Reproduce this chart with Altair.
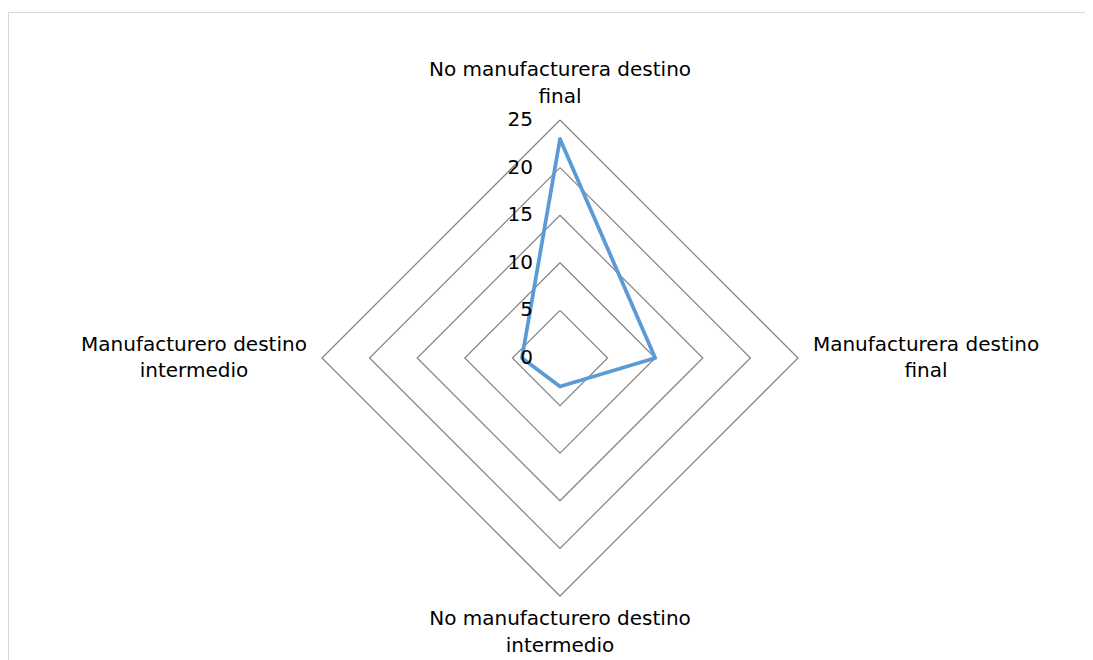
import altair as alt
import pandas as pd

# ---- data ----
categories = [
    "No manufacturera destino final",
    "Manufacturera destino final",
    "No manufacturero destino intermedio",
    "Manufacturero destino intermedio",
]
category_labels = [
    "No manufacturera destino\nfinal",
    "Manufacturera destino\nfinal",
    "No manufacturero destino\nintermedio",
    "Manufacturero destino\nintermedio",
]
values = [23, 10, 3, 4]
ticks = [0, 5, 10, 15, 20, 25]

# ---- layout (pixels) ----
W, H = 1077, 652
CX, CY = 552, 350
RMAX = max(ticks)
PPU = 238 / RMAX
xdom = [-CX / PPU, (W - CX) / PPU]
ydom = [-(H - CY) / PPU, CY / PPU]

FONT = "DejaVu Sans"
LH = 26.5
n = len(categories)

# tables built from the lists
series_df = pd.DataFrame({
    "k": [i % n for i in range(n + 1)],
    "order": list(range(n + 1)),
    "r": [values[i % n] for i in range(n + 1)],
    "cat": [categories[i % n] for i in range(n + 1)],
})
grid_df = pd.DataFrame([
    {"tick": t, "k": j % n, "order": j}
    for t in ticks[1:] for j in range(n + 1)
])
tick_df = pd.DataFrame({"tick": ticks, "label": [str(t) for t in ticks]})
cat_df = pd.DataFrame({"k": list(range(n)), "label": category_labels})

xs = alt.Scale(domain=xdom, nice=False, zero=False)
ys = alt.Scale(domain=ydom, nice=False, zero=False)

def xy(chart, rexpr):
    return chart.transform_calculate(
        px=f"({rexpr}) * sin(datum.k * PI / 2)",
        py=f"({rexpr}) * cos(datum.k * PI / 2)",
    )

grid = xy(alt.Chart(grid_df), "datum.tick").mark_line(
    color="#868686", strokeWidth=1.25
).encode(
    x=alt.X("px:Q", scale=xs, axis=None),
    y=alt.Y("py:Q", scale=ys, axis=None),
    detail="tick:N",
    order="order:Q",
)

series = xy(alt.Chart(series_df), "datum.r").mark_line(
    color="#5B9BD5", strokeWidth=3.75, strokeJoin="round", strokeCap="round"
).encode(
    x=alt.X("px:Q", scale=xs, axis=None),
    y=alt.Y("py:Q", scale=ys, axis=None),
    order="order:Q",
)

tick_labels = alt.Chart(tick_df).transform_calculate(
    px="0"
).mark_text(
    align="right", baseline="middle", dx=-27, font=FONT, fontSize=20, color="#000000"
).encode(
    x=alt.X("px:Q", scale=xs, axis=None),
    y=alt.Y("tick:Q", scale=ys, axis=None),
    text="label:N",
)

cat_text = xy(
    alt.Chart(cat_df),
    f"{RMAX} + 3.85 + 9.6 * abs(sin(datum.k * PI / 2))",
).mark_text(
    align="center", baseline="middle", font=FONT, fontSize=20, color="#000000",
    lineBreak="\n", lineHeight=LH, dy=-LH / 2,
).encode(
    x=alt.X("px:Q", scale=xs, axis=None),
    y=alt.Y("py:Q", scale=ys, axis=None),
    text="label:N",
)

frame_top = alt.Chart(tick_df).mark_rule(color="#d9d9d9", strokeWidth=1).encode(
    x=alt.value(0.5), x2=alt.value(W), y=alt.value(4.5)
)
frame_left = alt.Chart(tick_df).mark_rule(color="#d9d9d9", strokeWidth=1).encode(
    x=alt.value(0.5), y=alt.value(4.5), y2=alt.value(H)
)

chart = alt.layer(
    frame_top, frame_left, grid, series, tick_labels, cat_text
).properties(
    width=W, height=H, padding=0,
    autosize=alt.AutoSizeParams(type="none"),
).configure_view(stroke=None)

chart.save("out.html", embed_options={"renderer": "svg", "actions": False})
